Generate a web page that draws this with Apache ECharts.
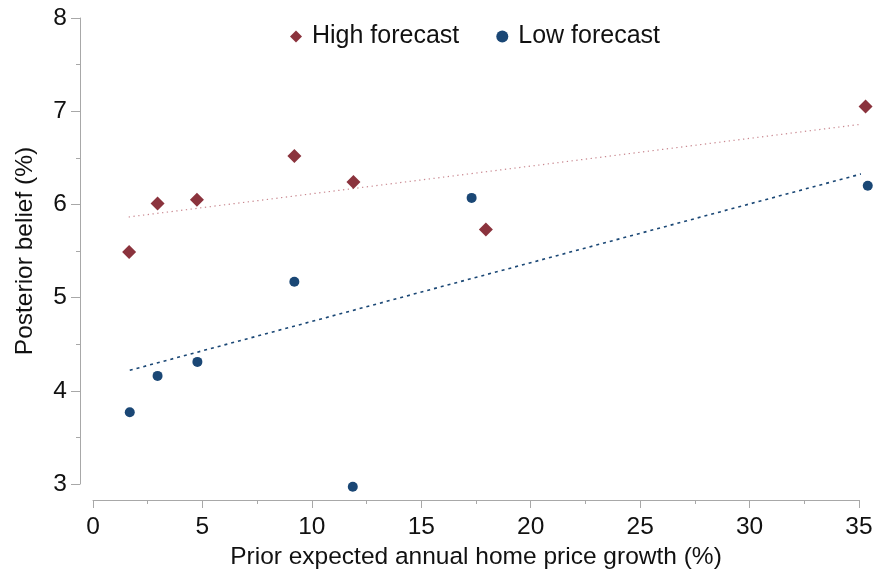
<!DOCTYPE html>
<html>
<head>
<meta charset="utf-8">
<script src="https://cdn.jsdelivr.net/npm/echarts@6/dist/echarts.min.js"></script>
<style>
  html, body { margin: 0; padding: 0; background: #fff; }
  #chart { width: 876px; height: 576px; }
</style>
</head>
<body>
<div id="chart"></div>
<script>
// Prior expected growth (x) and posterior belief (y), in percent
const highForecast = [
  [1.65, 5.49], [2.95, 6.01], [4.75, 6.05], [9.2, 6.52],
  [11.9, 6.24], [17.95, 5.73], [35.3, 7.05]
];
const lowForecast = [
  [1.68, 3.77], [2.95, 4.16], [4.77, 4.31], [9.2, 5.17],
  [11.87, 2.97], [17.3, 6.07], [35.4, 6.2]
];
// Fitted linear trends, start and end points
const highFit = [[1.63, 5.865], [35.3, 6.866]];
const lowFit = [[1.68, 4.22], [35.38, 6.344]];

const xTicks = { min: 0, max: 35, interval: 5 };
const yTicks = { min: 3, max: 8, interval: 1 };

const RED = '#8b333d';
const BLUE = '#1a4775';
const AXIS = '#a8a8a8';
const FONT = '"Liberation Sans", Arial, Helvetica, sans-serif';
const FS = 24.5;

const chart = echarts.init(document.getElementById('chart'), null, { renderer: 'canvas' });
chart.setOption({
  backgroundColor: '#ffffff',
  animation: false,
  textStyle: { fontFamily: FONT },
  legend: {
    data: [
      { name: 'High forecast', icon: 'diamond' },
      { name: 'Low forecast', icon: 'circle' }
    ],
    left: 285,
    top: 19,
    itemWidth: 12,
    itemHeight: 12,
    itemGap: 37,
    textStyle: { fontSize: 25, color: '#111', fontFamily: FONT, padding: [0, 0, 0, 5] }
  },
  grid: { left: 93, right: 17, top: 18, bottom: 92 },
  xAxis: {
    type: 'value',
    min: xTicks.min, max: xTicks.max, interval: xTicks.interval,
    offset: 16,
    name: 'Prior expected annual home price growth (%)',
    nameLocation: 'middle',
    nameGap: 38,
    nameTextStyle: { fontSize: FS, color: '#111', fontFamily: FONT },
    axisLine: { show: true, onZero: false, lineStyle: { color: AXIS, width: 1 } },
    axisTick: { show: true, length: 8, lineStyle: { color: AXIS } },
    minorTick: { show: true, splitNumber: 2, length: 4, lineStyle: { color: AXIS } },
    axisLabel: { fontSize: FS, color: '#111', margin: 15, fontFamily: FONT },
    splitLine: { show: false }
  },
  yAxis: {
    type: 'value',
    min: yTicks.min, max: yTicks.max, interval: yTicks.interval,
    offset: 13,
    name: 'Posterior belief (%)',
    nameLocation: 'middle',
    nameGap: 42,
    nameTextStyle: { fontSize: FS, color: '#111', fontFamily: FONT },
    axisLine: { show: true, onZero: false, lineStyle: { color: AXIS, width: 1 } },
    axisTick: { show: true, length: 9, lineStyle: { color: AXIS } },
    minorTick: { show: true, splitNumber: 2, length: 4, lineStyle: { color: AXIS } },
    axisLabel: { fontSize: FS, color: '#111', margin: 13, fontFamily: FONT },
    splitLine: { show: false }
  },
  series: [
    {
      name: 'High fit',
      type: 'line',
      data: highFit,
      clip: false,
      showSymbol: false,
      symbol: 'none',
      silent: true,
      lineStyle: { color: '#c98890', width: 1.2, type: [1.3, 3.5] },
      z: 1
    },
    {
      name: 'Low fit',
      type: 'line',
      data: lowFit,
      clip: false,
      showSymbol: false,
      symbol: 'none',
      silent: true,
      lineStyle: { color: BLUE, width: 1.6, type: [3, 4] },
      z: 1
    },
    {
      name: 'High forecast',
      type: 'scatter',
      data: highForecast,
      clip: false,
      symbol: 'diamond',
      symbolSize: 14,
      itemStyle: { color: RED, opacity: 1 },
      z: 3
    },
    {
      name: 'Low forecast',
      type: 'scatter',
      data: lowForecast,
      clip: false,
      symbol: 'circle',
      symbolSize: 10,
      itemStyle: { color: BLUE, opacity: 1 },
      z: 3
    }
  ]
});
</script>
</body>
</html>
